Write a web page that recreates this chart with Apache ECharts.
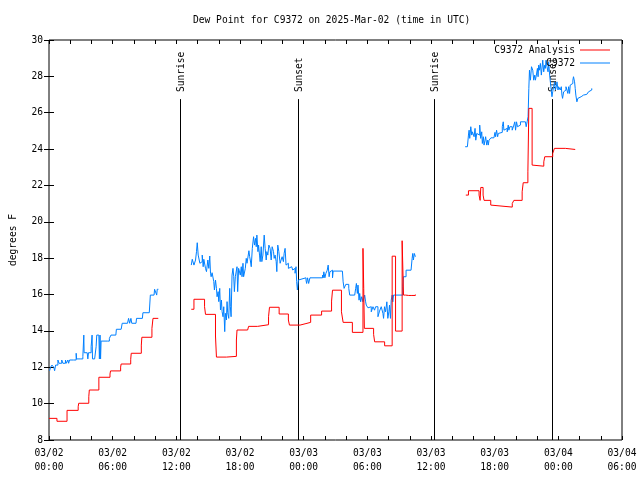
<!DOCTYPE html>
<html>
<head>
<meta charset="utf-8">
<script src="https://cdn.jsdelivr.net/npm/echarts@6/dist/echarts.min.js"></script>
<style>html,body{margin:0;padding:0;background:#fff;}#chart{width:640px;height:480px;}</style>
</head>
<body>
<div id="chart"></div>
<script>
// Hours since 2025-03-02 00:00 UTC, dew point (deg F)
var xTickLabels = ['03/02\n00:00','03/02\n06:00','03/02\n12:00','03/02\n18:00','03/03\n00:00','03/03\n06:00','03/03\n12:00','03/03\n18:00','03/04\n00:00','03/04\n06:00'];

var analysis1 = [[0,9.19],[0.75,9.03],[1.7,9.63],[2.75,9.83],[2.8,10.02],[3.75,10.38],[3.8,10.75],[4.7,11.45],[5.75,11.63],[5.8,11.8],[6.75,12.01],[6.8,12.18],[7.7,12.44],[7.75,12.77],[8.7,13.22],[8.75,13.65],[9.7,14.14],[9.8,14.69],[10.3,14.69]];
var analysis2 = [[13.41,15.19],[13.66,15.74],[14.66,15.33],[14.75,14.91],[15.69,13.72],[15.78,12.56],[16.72,12.6],[17.66,13.5],[17.72,14.05],[18.72,14.12],[18.81,14.25],[19.66,14.34],[20.69,14.78],[20.78,15.3],[21.69,14.93],[22.56,14.6],[22.66,14.32],[23.66,14.39],[24.13,14.47],[24.66,14.87],[25.69,15.09],[26.63,15.64],[26.72,16.24],[27.56,15.05],[27.72,14.47],[28.59,13.92],[29.59,18.54],[29.66,16.34],[29.72,14.14],[30.59,13.81],[30.69,13.4],[31.63,13.18],[32.34,18.11],[32.66,13.99],[33.28,18.96],[33.41,15.97],[33.6,16.05],[33.75,15.95],[33.9,16.05],[34.05,15.95],[34.2,16.05],[34.35,15.95],[34.53,16.0]];
var analysis3 = [[39.28,21.47],[39.53,21.71],[40.53,21.47],[40.63,21.18],[40.69,21.89],[40.91,21.47],[41.0,21.18],[41.63,20.92],[41.72,20.81],[43.66,21.01],[43.81,21.18],[44.59,21.65],[44.69,22.15],[45.13,22.75],[45.22,26.24],[45.53,23.12],[45.63,23.06],[46.63,23.3],[46.72,23.58],[47.47,23.76],[47.63,24.04],[48.66,23.98],[49.59,23.98]];

var obs1 = [[0.06,11.81],[0.15,12.0],[0.28,12.12],[0.45,12.0],[0.53,11.81],[0.62,12.12],[0.75,12.12],[0.84,12.4],[0.94,12.22],[1.1,12.22],[1.2,12.4],[1.31,12.22],[1.47,12.22],[1.55,12.4],[1.63,12.22],[1.78,12.4],[1.85,12.22],[1.94,12.4],[2.3,12.4],[2.56,12.77],[2.6,12.46],[3.0,12.46],[3.19,12.59],[3.28,13.77],[3.31,12.8],[3.6,12.8],[3.66,12.46],[3.72,12.8],[3.97,13.13],[4.06,13.77],[4.1,12.46],[4.3,12.46],[4.44,13.13],[4.5,13.77],[4.7,13.77],[4.75,12.46],[4.81,13.77],[4.86,12.46],[4.91,13.44],[5.5,13.44],[5.69,13.59],[5.84,13.77],[6.3,13.77],[6.35,14.09],[6.8,14.09],[6.9,14.42],[7.4,14.42],[7.5,14.69],[7.6,14.42],[7.72,14.69],[7.8,14.42],[8.2,14.42],[8.25,14.69],[8.8,14.69],[8.85,15.0],[9.45,15.0],[9.5,15.48],[9.55,15.97],[9.9,15.97],[9.95,16.29],[10.1,16.29],[10.15,15.97],[10.2,16.29],[10.31,16.29]];
var obs2 = [[13.41,17.62],[13.5,17.94],[13.66,17.62],[13.81,17.9],[13.9,18.36],[13.97,18.85],[14.06,18.17],[14.22,17.72],[14.28,17.81],[14.44,18.17],[14.53,17.53],[14.59,17.94],[14.75,17.44],[14.84,17.26],[14.9,17.17],[14.97,17.9],[15.06,17.44],[15.15,18.12],[15.22,17.17],[15.28,16.98],[15.37,17.2],[15.53,16.71],[15.59,16.25],[15.69,16.8],[15.78,16.34],[15.84,15.88],[15.94,16.16],[16.0,15.61],[16.09,16.34],[16.16,15.15],[16.25,15.7],[16.31,15.06],[16.4,14.78],[16.47,15.33],[16.56,13.96],[16.62,14.97],[16.72,14.6],[16.78,15.61],[16.84,15.0],[16.94,14.69],[17.03,16.34],[17.09,15.33],[17.16,14.78],[17.25,17.07],[17.34,17.44],[17.41,16.98],[17.47,16.16],[17.56,16.98],[17.72,17.53],[17.78,16.16],[17.87,17.44],[17.97,17.35],[18.03,17.07],[18.12,17.53],[18.19,16.98],[18.28,17.72],[18.34,16.98],[18.5,17.44],[18.59,17.99],[18.66,17.72],[18.75,17.81],[18.84,18.41],[18.91,18.08],[18.97,17.9],[19.06,17.53],[19.16,18.54],[19.28,19.18],[19.37,18.72],[19.47,19.09],[19.53,18.63],[19.59,19.27],[19.69,18.36],[19.75,18.72],[19.84,18.17],[19.9,17.81],[20.0,18.63],[20.06,17.81],[20.16,18.17],[20.28,19.27],[20.37,18.54],[20.47,17.9],[20.53,18.36],[20.62,18.17],[20.72,18.72],[20.84,18.54],[20.94,17.9],[21.03,18.63],[21.16,18.36],[21.22,17.99],[21.31,18.17],[21.41,17.81],[21.47,17.26],[21.56,18.72],[21.66,18.36],[21.78,17.72],[21.87,17.9],[21.97,18.08],[22.09,17.81],[22.16,18.27],[22.25,18.54],[22.34,17.62],[22.41,17.72],[22.56,17.44],[22.72,17.53],[22.87,17.62],[22.97,17.35],[23.03,17.44],[23.19,17.17],[23.28,17.53],[23.34,16.71],[23.41,16.25],[23.5,16.8],[23.56,16.89],[23.59,16.92],[24.22,16.79],[24.28,16.61],[24.37,16.92],[24.47,16.61],[24.59,16.92],[25.78,17.07],[25.84,16.92],[25.9,17.25],[26.0,16.92],[26.09,17.16],[26.22,17.34],[26.31,17.62],[26.4,16.98],[26.47,17.25],[26.62,17.34],[26.72,16.92],[26.78,17.29],[27.65,17.29],[27.72,16.7],[27.81,16.34],[27.97,16.56],[28.25,16.34],[28.34,15.97],[28.81,15.97],[28.9,16.34],[28.97,16.61],[29.06,16.06],[29.12,16.52],[29.22,15.69],[29.28,16.06],[29.37,15.6],[29.47,15.88],[29.59,15.6],[29.68,15.69],[29.75,15.97],[29.84,15.6],[29.9,15.42],[30.06,15.27],[30.22,15.33],[30.37,15.05],[30.53,15.33],[30.68,15.14],[30.78,15.33],[31.0,14.78],[31.15,15.09],[31.31,15.33],[31.47,14.96],[31.53,14.69],[31.62,15.33],[31.72,15.05],[31.84,15.6],[31.93,14.69],[32.03,15.05],[32.09,15.42],[32.18,14.69],[32.25,15.69],[32.34,15.97],[32.4,15.6],[32.47,15.97],[32.56,15.97],[33.34,16.43],[33.4,16.98],[33.65,17.34],[34.12,17.34],[34.22,17.99],[34.28,18.26],[34.34,17.9],[34.43,18.26],[34.53,18.08]];
var obs3 = [[39.22,24.13],[39.43,24.22],[39.53,24.77],[39.59,25.04],[39.65,24.59],[39.75,25.23],[39.84,24.77],[39.9,24.95],[40.06,24.68],[40.15,25.14],[40.22,24.49],[40.31,24.86],[40.37,24.95],[40.47,24.77],[40.59,25.32],[40.68,24.59],[40.78,24.95],[40.84,24.31],[40.93,24.68],[41.0,24.22],[41.09,24.49],[41.15,24.68],[41.25,24.22],[41.34,24.49],[41.4,24.22],[41.47,24.49],[41.56,24.4],[41.65,24.62],[41.93,24.73],[42.03,24.92],[42.09,24.68],[42.18,25.04],[42.28,24.68],[42.34,24.86],[42.4,24.92],[42.72,25.23],[42.81,25.5],[42.87,25.04],[43.03,25.14],[43.18,24.95],[43.28,25.32],[43.34,25.04],[43.43,25.23],[43.65,25.04],[43.81,25.32],[43.9,25.5],[43.97,25.04],[44.06,25.5],[44.15,25.23],[44.28,25.32],[44.43,25.5],[44.9,25.5],[44.97,25.23],[45.06,25.5],[45.15,25.78],[45.22,27.34],[45.28,28.34],[45.37,27.79],[45.47,28.53],[45.59,28.34],[45.68,27.79],[45.78,28.07],[45.84,27.79],[45.93,28.07],[46.03,28.44],[46.09,27.98],[46.15,28.62],[46.22,28.34],[46.31,28.71],[46.4,28.07],[46.53,28.89],[46.62,28.25],[46.72,28.62],[46.78,28.44],[46.84,28.89],[46.93,28.53],[47.03,28.25],[47.09,28.8],[47.18,28.07],[47.28,27.52],[47.34,27.61],[47.4,26.88],[47.47,27.15],[47.56,27.43],[47.65,27.7],[47.72,27.25],[47.81,27.43],[47.87,27.7],[47.97,27.25],[48.03,27.43],[48.09,27.52],[48.18,27.25],[48.28,27.43],[48.34,26.97],[48.4,26.79],[48.5,27.15],[48.59,27.25],[48.72,27.43],[48.81,27.25],[48.9,27.06],[48.97,27.43],[49.06,27.06],[49.12,27.52],[49.22,27.52],[49.28,27.61],[49.37,27.79],[49.43,27.98],[49.53,27.7],[49.59,27.34],[49.65,26.97],[49.75,26.6],[49.84,26.79],[49.97,26.88],[50.15,26.97],[50.37,27.01],[50.68,27.06],[50.84,27.15],[51.0,27.25],[51.15,27.34]];

var sunTimes = [12.37, 23.42, 36.25, 47.44];
var sunNames = ['Sunrise', 'Sunset', 'Sunrise', 'Sunset'];
var sunLineTop = 26.75;

var FONT = 'DejaVu Sans Mono';
var FS = 9.6;
var RED = '#ff0000';
var BLUE = '#0080ff';

function lineSeries(name, data, color) {
  return {
    type: 'line', name: name, data: data, step: 'end', symbol: 'none',
    lineStyle: {color: color, width: 1}, itemStyle: {color: color},
    animation: false, silent: true
  };
}

function legendBox(name, top) {
  return {
    data: [name], right: 30, top: top, padding: 0, orient: 'vertical', align: 'right',
    icon: 'rect', itemWidth: 30, itemHeight: 1, itemGap: 0, selectedMode: false,
    textStyle: {fontFamily: FONT, fontSize: FS, color: '#000'}
  };
}

var chart = echarts.init(document.getElementById('chart'), null, {renderer: 'canvas'});
chart.setOption({
  backgroundColor: '#fff',
  animation: false,
  title: {
    text: 'Dew Point for C9372 on 2025-Mar-02 (time in UTC)',
    left: 188, top: 10,
    textStyle: {fontFamily: FONT, fontSize: FS, fontWeight: 'normal', color: '#000'}
  },
  legend: [legendBox('C9372 Analysis', 45), legendBox('C9372', 58)],
  grid: {left: 46, right: 18, top: 40, bottom: 40, show: true, borderColor: '#000', borderWidth: 1, backgroundColor: 'transparent'},
  xAxis: [
    {type: 'value', min: 0, max: 54, interval: 2, position: 'bottom',
     axisLine: {show: false},
     axisTick: {show: true, inside: true, length: 4, lineStyle: {color: '#000'}},
     axisLabel: {margin: 6, lineHeight: 14, color: '#000', fontFamily: FONT, fontSize: FS,
       formatter: function (v) { return (v % 6 === 0) ? xTickLabels[v / 6] : ''; }},
     splitLine: {show: false}},
    {type: 'value', min: 0, max: 54, interval: 2, position: 'top',
     axisLine: {show: false},
     axisTick: {show: true, inside: true, length: 4, lineStyle: {color: '#000'}},
     axisLabel: {show: false}, splitLine: {show: false}}
  ],
  yAxis: [
    {type: 'value', min: 8, max: 30, interval: 2, position: 'left',
     name: 'degrees F', nameLocation: 'middle', nameGap: 31, nameRotate: 90,
     nameTextStyle: {fontFamily: FONT, fontSize: FS, color: '#000'},
     axisLine: {show: false},
     axisTick: {show: true, inside: true, length: 5, lineStyle: {color: '#000'}},
     axisLabel: {margin: 6, color: '#000', fontFamily: FONT, fontSize: FS},
     splitLine: {show: false}},
    {type: 'value', min: 8, max: 30, interval: 2, position: 'right',
     axisLine: {show: false},
     axisTick: {show: true, inside: true, length: 5, lineStyle: {color: '#000'}},
     axisLabel: {show: false}, splitLine: {show: false}}
  ],
  series: [
    lineSeries('C9372', obs1, BLUE),
    lineSeries('C9372', obs2, BLUE),
    lineSeries('C9372', obs3, BLUE),
    lineSeries('C9372 Analysis', analysis1, RED),
    lineSeries('C9372 Analysis', analysis2, RED),
    lineSeries('C9372 Analysis', analysis3, RED),
    {
      type: 'custom', name: 'sun', silent: true, animation: false,
      data: sunTimes.map(function (t) { return [t]; }),
      renderItem: function (params, api) {
        var t = api.value(0);
        var top = api.coord([t, sunLineTop]);
        var bot = api.coord([t, 8]);
        var x = Math.round(top[0]) + 0.5;
        return {
          type: 'group',
          children: [
            {type: 'line', shape: {x1: x, y1: top[1], x2: x, y2: bot[1]}, style: {stroke: '#000', lineWidth: 1}},
            {type: 'text', x: x + 1, y: top[1] - 7, rotation: Math.PI / 2,
             style: {text: sunNames[params.dataIndex], fill: '#000', fontFamily: FONT, fontSize: FS, align: 'left', verticalAlign: 'middle'}}
          ]
        };
      }
    }
  ]
});
</script>
</body>
</html>
